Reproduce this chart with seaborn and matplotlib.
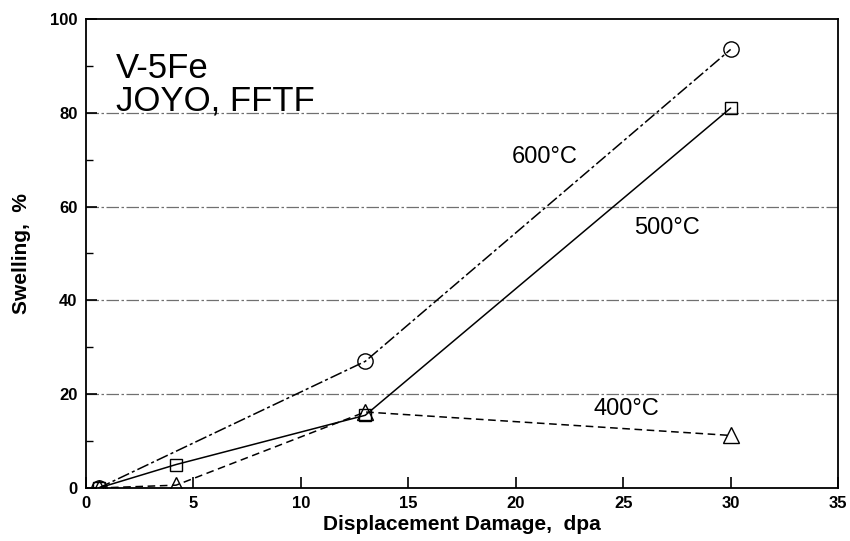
import matplotlib
matplotlib.use("Agg")
import matplotlib.pyplot as plt
from matplotlib.ticker import MultipleLocator
import seaborn as sns
import pandas as pd

dpa_600 = [0.6, 13.0, 30.0]
swell_600 = [0.0, 27.0, 93.5]
dpa_500 = [0.6, 4.2, 13.0, 30.0]
swell_500 = [0.0, 5.0, 15.5, 81.0]
dpa_400 = [0.6, 4.2, 13.0, 30.0]
swell_400 = [0.0, 0.6, 16.2, 11.2]

sns.set_theme(style="white")
plt.rcParams['font.family'] = ['Liberation Sans', 'DejaVu Sans']
plt.rcParams.update({"text.color": "black", "axes.labelcolor": "black",
                     "xtick.color": "black", "ytick.color": "black"})

fig = plt.figure(figsize=(8.5, 5.41), dpi=100)
ax = fig.add_axes([0.101, 0.098, 0.885, 0.867])

for y in [20, 40, 60, 80]:
    ax.axhline(y, color="#707070", lw=0.9, ls=(0, (10, 2, 2, 2)), zorder=0)

series = [
    (dpa_600, swell_600, "o", (0, (8, 2, 2, 2)), 11),
    (dpa_500, swell_500, "s", "-", 8.5),
    (dpa_400, swell_400, "^", (0, (5, 3)), 11),
]
for xs, ys, mk, ls, ms in series:
    df = pd.DataFrame({"x": xs, "y": ys})
    sns.lineplot(data=df, x="x", y="y", ax=ax, color="black", lw=1.1,
                 linestyle=ls, marker=mk, markersize=ms,
                 markerfacecolor="none", markeredgecolor="black",
                 markeredgewidth=1.0, sort=False)

ax.set_xlim(0, 35)
ax.set_ylim(0, 100)
ax.xaxis.set_major_locator(MultipleLocator(5))
ax.yaxis.set_major_locator(MultipleLocator(20))
ax.yaxis.set_minor_locator(MultipleLocator(10))
ax.tick_params(axis="x", which="major", direction="in", length=8,
               width=1.2, color="black", labelcolor="black", labelsize=12, pad=6)
ax.tick_params(axis="y", which="major", direction="in", length=8,
               width=1.2, color="black", labelcolor="black", labelsize=12, pad=6)
ax.tick_params(axis="y", which="minor", direction="in", length=5,
               width=1.0, color="black", left=True)
ax.tick_params(axis="x", bottom=True)
ax.tick_params(axis="y", left=True)
for lab in ax.get_xticklabels() + ax.get_yticklabels():
    lab.set_fontweight("bold")

for sp in ax.spines.values():
    sp.set_color("black")
    sp.set_linewidth(1.3)

ax.set_xlabel("Displacement Damage,  dpa", fontsize=15, fontweight="bold",
              labelpad=3, color="black")
ax.set_ylabel("Swelling,  %", fontsize=15, fontweight="bold", labelpad=14,
              color="black")

ax.text(1.4, 93, "V-5Fe\nJOYO, FFTF", fontsize=25, va="top", ha="left",
        linespacing=1.0, color="black")
ax.text(19.8, 70.5, "600°C", fontsize=17, ha="left", va="center", color="black")
ax.text(25.5, 55.5, "500°C", fontsize=17, ha="left", va="center", color="black")
ax.text(23.6, 16.8, "400°C", fontsize=17, ha="left", va="center", color="black")

fig.savefig("out.png", dpi=100)
